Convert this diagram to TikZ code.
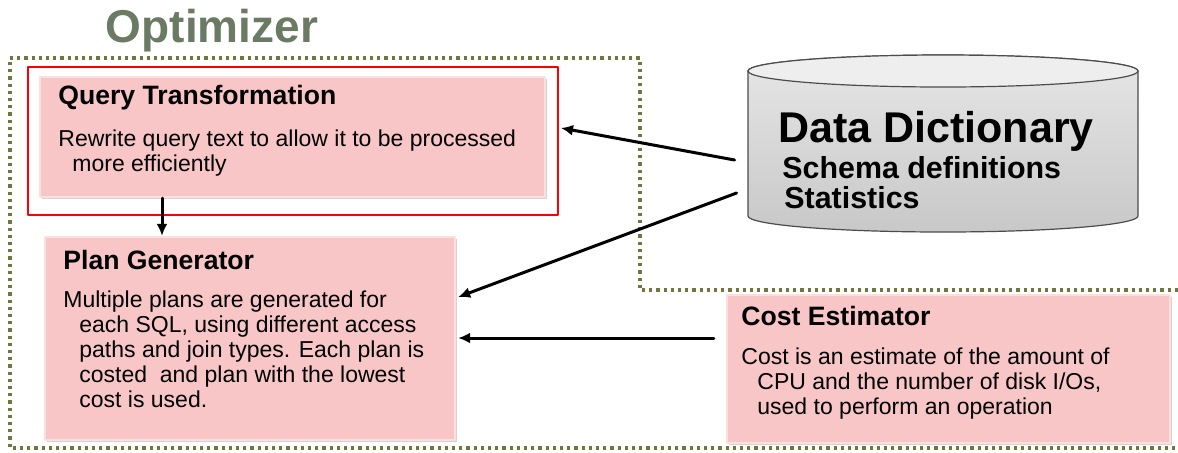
\documentclass[tikz,border=0pt]{standalone}
\usepackage{fontspec}
\setmainfont{Liberation Sans}
\usetikzlibrary{
  arrows.meta,
  positioning,
  shadows
}

\definecolor{boxpink}{RGB}{248,198,198}
\definecolor{olivedot}{RGB}{112,118,62}
\definecolor{titlegray}{RGB}{107,122,99}
\definecolor{cylbody}{RGB}{200,200,200}
\definecolor{cylend}{RGB}{238,238,238}

\begin{document}
\begin{tikzpicture}[
  x=0.5pt, y=-0.5pt,
  line cap=round,
  line join=round,
  flow/.style={
    -{Latex[length=6pt,width=5.5pt]},
    line width=1.5pt,
    draw=black
  },
  border/.style={
    draw=olivedot,
    line width=1.6pt,
    line cap=butt,
    dash pattern=on 1.6pt off 2pt
  },
  stage/.style={
    draw=boxpink!55!white,
    line width=1.2pt,
    fill=boxpink,
    drop shadow={opacity=0.35, shadow xshift=0.8pt, shadow yshift=-1.2pt},
    inner sep=0pt
  },
  frame/.style={
    draw=red,
    line width=1pt,
    inner sep=0pt
  },
  dbline/.style={
    draw=black!70,
    line width=0.6pt
  },
  head/.style={
    anchor=west,
    inner sep=0pt,
    font=\fontsize{13.3}{15}\selectfont\bfseries
  },
  body/.style={
    anchor=north west,
    inner sep=0pt,
    align=left,
    font=\fontsize{11.5}{12.6}\selectfont
  }
]
\useasboundingbox (0,0) rectangle (1178,452);

% Optimizer boundary
\draw[border] (1178,290) -- (640,290) -- (640,58) -- (10,58) -- (10,448) -- (1178,448);
\node[font=\fontsize{23}{26}\selectfont\bfseries, text=titlegray] (opt) at (212,31) {Optimizer};

% Main nodes
\node[frame, minimum width=265pt, minimum height=74pt] (qtframe) at (293,141) {};
\node[stage, minimum width=252.5pt, minimum height=60pt] (qt) at (292.5,137) {};
\node[stage, minimum width=205pt, minimum height=101.5pt] (pg) at (250,338.5) {};
\node[stage, minimum width=221.5pt, minimum height=74pt] (ce) at (948.5,369) {};

% Data dictionary cylinder
\node[minimum width=195pt, minimum height=88.5pt, inner sep=0pt] (dd) at (943,143.5) {};
\path[dbline, top color=cylbody!45!white, bottom color=cylbody]
  (748,71) -- (748,216)
  arc[start angle=180, end angle=360, x radius=97.5pt, y radius=8pt]
  -- (1138,71)
  arc[start angle=0, end angle=180, x radius=97.5pt, y radius=8pt] -- cycle;
\path[dbline, fill=cylend] (943,71) ellipse[x radius=97.5pt, y radius=8pt];

% Texts
\node[head] (qthead) at (58,98) {Query Transformation};
\node[body] (qtbody) at (58,129) {Rewrite query text to allow it to be processed\\
  \hspace*{7pt}more efficiently};

\node[head] (pghead) at (63,260) {Plan Generator};
\node[body] (pgbody) at (63,290) {Multiple plans are generated for\\
  \hspace*{8pt}each SQL, using different access\\
  \hspace*{8pt}paths and join types. Each plan is\\
  \hspace*{8pt}costed\ \ and plan with the lowest\\
  \hspace*{8pt}cost is used.};

\node[head] (cehead) at (741,316) {Cost Estimator};
\node[body] (cebody) at (741,347) {Cost is an estimate of the amount of\\
  \hspace*{8pt}CPU and the number of disk I/Os,\\
  \hspace*{8pt}used to perform an operation};

\node[anchor=west, inner sep=0pt, font=\fontsize{21.5}{24}\selectfont\bfseries] (ddhead) at (778,131) {Data Dictionary};
\node[anchor=north west, inner sep=0pt, align=left, font=\fontsize{15.2}{15}\selectfont\bfseries] (ddbody) at (782,156)
  {Schema definitions\\ \hspace*{1pt}Statistics};

% Flow
\draw[flow] ([shift={(-130.5,0)}]qt.south) -- ([shift={(-130.5,0)}]qt.south |- pg.north);
\draw[flow] ([shift={(-13,16.5)}]dd.west) -- ([shift={(2,-13)}]qtframe.east);
\draw[flow] ([shift={(-11,49.5)}]dd.west) -- ([shift={(2,-41.5)}]pg.east);
\draw[flow] ([shift={(-12,0)}]ce.west |- 0,338) -- ([shift={(2,0)}]pg.east |- 0,338);

\end{tikzpicture}
\end{document}
